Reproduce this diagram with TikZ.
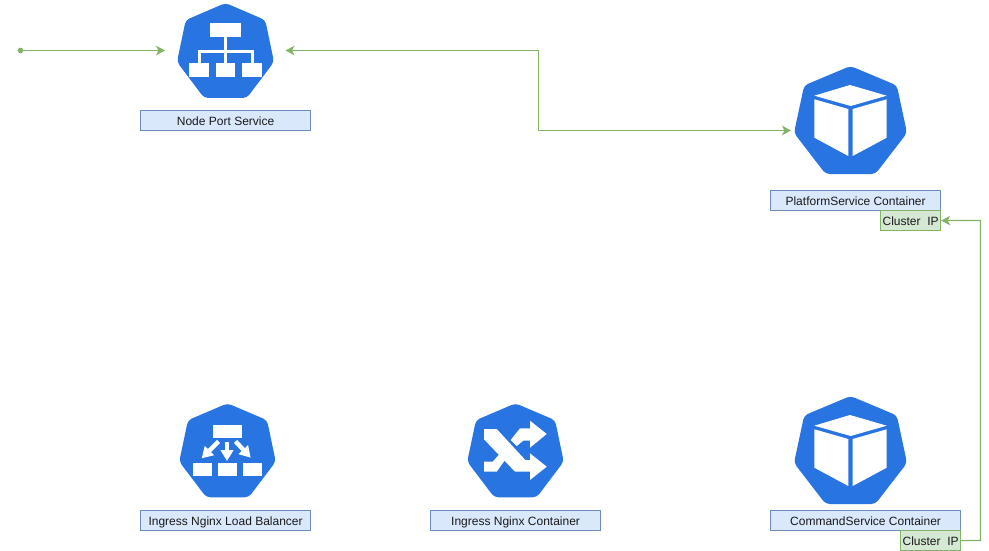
\documentclass[tikz,border=0pt]{standalone}
\usepackage{fontspec}
\setmainfont{Liberation Sans}
\usetikzlibrary{arrows.meta}
\definecolor{kblue}{HTML}{2875E2}
\definecolor{lblfill}{HTML}{DAE8FC}
\definecolor{lblline}{HTML}{6C8EBF}
\definecolor{cifill}{HTML}{D5E8D4}
\definecolor{ciline}{HTML}{82B366}
\definecolor{txt}{HTML}{1A1A1A}
\tikzset{
  lbl/.style={draw=lblline,fill=lblfill,line width=1.2pt,text=txt,font=\fontsize{12}{14}\selectfont,inner sep=0pt,anchor=north west,text height=10.5pt,text depth=1.5pt},
  cip/.style={draw=ciline,fill=cifill,line width=1.2pt,text=txt,font=\fontsize{12}{14}\selectfont,inner sep=0pt,anchor=north west,minimum width=60pt,minimum height=20pt,text height=10.5pt,text depth=1.5pt},
  wire/.style={draw=ciline,line width=1.2pt},
  ktip/.tip={Stealth[length=9pt,width=9.5pt,inset=2.5pt,fill=ciline]},
  wh/.style={fill=white,draw=none},
  lbarrow/.style={white,line width=4.4pt,-{Triangle[length=11pt,width=12.5pt]}},
}
% heptagon: #1 centre x, #2 top y, #3 width, #4 height
\newcommand{\hept}[4]{%
  \fill[kblue,rounded corners=4pt]
    ({#1},{#2}) -- ({#1+.41*#3},{#2+.18*#4}) -- ({#1+.5*#3},{#2+.62*#4}) --
    ({#1+.22*#3},{#2+#4}) -- ({#1-.22*#3},{#2+#4}) -- ({#1-.5*#3},{#2+.62*#4}) --
    ({#1-.41*#3},{#2+.18*#4}) -- cycle;}
% cube: #1 vertical offset
\newcommand{\kcube}[1]{%
  \begin{scope}[yshift=-#1pt]
    \fill[wh] (850,85) -- (886.7,95.7) -- (850.7,106) -- (814.3,95.7) -- cycle;
    \fill[wh] (814.3,99.3) -- (848.3,109) -- (848.3,156) -- (814.3,137.7) -- cycle;
    \fill[wh] (852.7,109) -- (886.7,99.3) -- (886.7,137.7) -- (852.7,156) -- cycle;
  \end{scope}}
\begin{document}
\begin{tikzpicture}[x=1pt,y=-1pt]
\useasboundingbox (0,0) rectangle (989,551);
% icons
\hept{225.5}{3}{97}{95}
\fill[wh] (210,23.3) rectangle (240.7,37);
\fill[wh] (189.3,63.3) rectangle (209,77.3);
\fill[wh] (215.7,63.3) rectangle (235,77.3);
\fill[wh] (242,63.3) rectangle (261.7,77.3);
\draw[white,line width=3pt] (225.5,37) -- (225.5,64) (199,64) -- (199,52) -- (252,52) -- (252,64);
\hept{850.5}{66}{113}{108}
\kcube{0}
\hept{850.5}{396}{113}{108}
\kcube{330}
\hept{227.5}{403.3}{96.5}{94}
\fill[wh] (212.7,425) rectangle (242.3,437.7);
\fill[wh] (193.3,463.3) rectangle (211.7,476);
\fill[wh] (218.3,463.3) rectangle (236.7,476);
\fill[wh] (243.3,463.3) rectangle (262,476);
\draw[lbarrow] (227,441.7) -- (227,461);
\draw[lbarrow] (218.6,441.4) -- (201.7,458.3);
\draw[lbarrow] (235.6,441.4) -- (250.7,457.7);
\hept{515.5}{403.3}{96.5}{94}
\fill[wh] (484,429) -- (496.7,429) -- (525.3,460) -- (530,460) -- (530,453.3) -- (546.7,466.7) -- (530,480) -- (530,471.7) -- (515,471.7) -- (484,439.3) -- cycle;
\fill[wh] (530,420.7) -- (546.7,434) -- (530,447.7) -- (530,440.7) -- (523.3,440.7) -- (516.7,446) -- (510.7,440) -- (520,428.3) -- (530,428.3) -- cycle;
\fill[wh] (484,461.7) -- (492.7,461.7) -- (499.3,454.3) -- (505,460) -- (496.7,471.7) -- (484,471.7) -- cycle;
% labels
\node[lbl,minimum width=170pt,minimum height=20pt] (nps) at (140,110) {Node Port Service};
\node[lbl,minimum width=170pt,minimum height=20pt] (psc) at (770,190) {PlatformService Container};
\node[cip] (cip1) at (880,210) {Cluster\ \ IP};
\node[lbl,minimum width=170pt,minimum height=20pt] (lb) at (140,510) {Ingress Nginx Load Balancer};
\node[lbl,minimum width=170pt,minimum height=20pt] (inc) at (430,510) {Ingress Nginx Container};
\node[lbl,minimum width=190pt,minimum height=20pt] (csc) at (770,510) {CommandService Container};
\node[cip] (cip2) at (900,530) {Cluster\ \ IP};
% connectors
\coordinate (start) at (20.5,50.5);
\coordinate (npsin) at (165,50.5);
\coordinate (npsout) at (285.5,50.5);
\coordinate (pscin) at (791,130.5);
\fill[ciline] (start) circle (2.8pt);
\draw[wire,-{ktip}] (start) -- (npsin);
\draw[wire,{ktip}-{ktip}] (npsout) -- (538.5,50.5) -- (538.5,130.5) -- (pscin);
\draw[wire,-{ktip}] (cip2.east) -- (980.5,540.5) -- (980.5,220.5) -- (cip1.east);
\end{tikzpicture}
\end{document}
